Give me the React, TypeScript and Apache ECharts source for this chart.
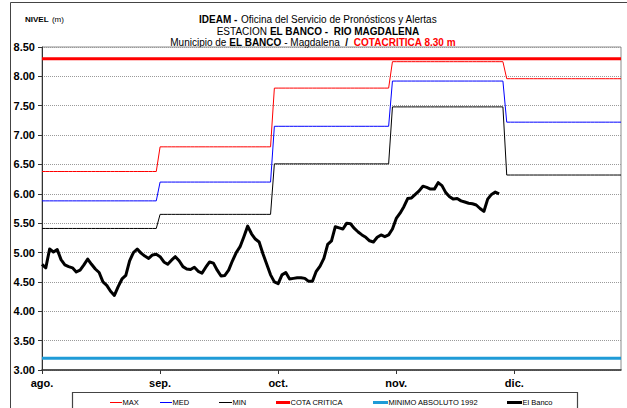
import React, { useEffect, useRef } from "react";
import * as echarts from "echarts";

// Month axis (Aug 1 – Dec 31, one category per day)
const monthLabels = ["ago.", "sep.", "oct.", "nov.", "dic."];
const monthDays = [31, 30, 31, 30, 31];

// Monthly reference levels (m)
const maxMonthly = [6.38, 6.8, 7.8, 8.25, 7.96];
const medMonthly = [5.88, 6.2, 7.15, 7.92, 7.22];
const minMonthly = [5.41, 5.65, 6.51, 7.48, 6.32];

// Constant levels (m)
const cotaCritica = 8.3;
const minimoAbsoluto1992 = 3.2;

// Daily level at El Banco, from Aug 1 (m)
const elBanco = [
  4.8, 4.74, 5.06, 5.01, 5.05, 4.88, 4.79, 4.76, 4.74, 4.67,
  4.7, 4.79, 4.89, 4.8, 4.72, 4.66, 4.5, 4.44, 4.34, 4.27,
  4.42, 4.55, 4.61, 4.86, 5.0, 5.06, 4.99, 4.94, 4.9, 4.96,
  4.97, 4.93, 4.84, 4.8, 4.87, 4.93, 4.86, 4.76, 4.72, 4.71,
  4.75, 4.68, 4.65, 4.75, 4.84, 4.82, 4.7, 4.6, 4.61, 4.7,
  4.86, 5.0, 5.1, 5.27, 5.45, 5.32, 5.23, 5.18, 4.98, 4.8,
  4.62, 4.5, 4.47, 4.62, 4.66, 4.55, 4.56, 4.57, 4.57, 4.56,
  4.51, 4.51, 4.68, 4.77, 4.9, 5.14, 5.2, 5.44, 5.42, 5.4,
  5.5, 5.49, 5.41, 5.35, 5.3, 5.26, 5.2, 5.18, 5.26, 5.3,
  5.27, 5.3, 5.4, 5.58, 5.67, 5.78, 5.92, 5.93, 5.99, 6.05,
  6.13, 6.11, 6.08, 6.08, 6.19, 6.14, 6.02, 5.95, 5.91, 5.92,
  5.88, 5.86, 5.84, 5.83, 5.81, 5.75, 5.7, 5.91, 5.99, 6.03,
  6.0,
];

// Series names, colours and widths (legend order)
const seriesNames = ["MAX", "MED", "MIN", "COTA CRITICA", "MINIMO ABSOLUTO 1992", "El Banco"];
const seriesColors = ["#ff0000", "#0000ff", "#000000", "#ff0000", "#1f9bd7", "#000000"];
const seriesWidths = [1, 1, 1, 3, 3, 3];

const yMin = 3;
const yMax = 8.5;
const yInterval = 0.5;

const FONT = "'Liberation Sans', Arial, sans-serif";

export default function App() {
  const ref = useRef<HTMLDivElement>(null);

  useEffect(() => {
    if (!ref.current) return;
    const chart = echarts.init(ref.current, undefined, { renderer: "svg" });

    const categories: string[] = [];
    const monthOfDay: number[] = [];
    monthDays.forEach((n, m) => {
      for (let d = 1; d <= n; d++) {
        categories.push(`${monthLabels[m]} ${d}`);
        monthOfDay.push(m);
      }
    });
    const expand = (arr: number[]) => monthOfDay.map((m) => arr[m]);
    const constant = (v: number) => monthOfDay.map(() => v);

    const seriesData = [
      expand(maxMonthly),
      expand(medMonthly),
      expand(minMonthly),
      constant(cotaCritica),
      constant(minimoAbsoluto1992),
      elBanco,
    ];

    // Legend layout: [line start x, line end x]; text follows line end
    const legendX: [number, number][] = [
      [110, 122],
      [160, 172],
      [219, 232],
      [276, 290],
      [373, 388],
      [507, 522],
    ];
    const legendY = 402;
    const legendGraphics: any[] = [];
    seriesNames.forEach((name, i) => {
      const [x1, x2] = legendX[i];
      const w = seriesWidths[i];
      const yy = w % 2 === 1 ? legendY + 0.5 : legendY;
      legendGraphics.push({
        type: "line",
        shape: { x1, y1: yy, x2, y2: yy },
        style: { stroke: seriesColors[i], lineWidth: w },
        silent: true,
        z: 10,
      });
      legendGraphics.push({
        type: "text",
        x: x2 + 0.5,
        y: legendY,
        style: {
          text: name,
          fontSize: 7.5,
          fontFamily: FONT,
          fill: "#000",
          align: "left",
          verticalAlign: "middle",
        },
        silent: true,
        z: 10,
      });
    });

    chart.setOption({
      animation: false,
      backgroundColor: "#ffffff",
      textStyle: { fontFamily: FONT },
      grid: {
        left: 42,
        right: 6,
        top: 47,
        bottom: 38,
        show: true,
        borderColor: "#8c8c8c",
        borderWidth: 1,
        backgroundColor: "transparent",
      },
      xAxis: {
        type: "category",
        data: categories,
        boundaryGap: false,
        axisLine: { show: true, lineStyle: { color: "#333", width: 1.5 } },
        axisTick: {
          show: true,
          interval: 30,
          length: 4,
          inside: false,
          lineStyle: { color: "#333" },
        },
        axisLabel: {
          interval: 30,
          margin: 7,
          fontSize: 11,
          fontWeight: "bold",
          color: "#000",
          fontFamily: FONT,
          formatter: (v: string) => v.split(" ")[0],
        },
        splitLine: { show: false },
      },
      yAxis: {
        type: "value",
        min: yMin,
        max: yMax,
        interval: yInterval,
        axisLine: { show: true, lineStyle: { color: "#333", width: 1 } },
        axisTick: { show: true, length: 4, lineStyle: { color: "#333" } },
        axisLabel: {
          margin: 7,
          fontSize: 11,
          fontWeight: "bold",
          color: "#000",
          fontFamily: FONT,
          formatter: (v: number) => v.toFixed(2),
        },
        splitLine: {
          show: true,
          lineStyle: { color: "#9a9a9a", type: [1, 1], width: 1 },
        },
      },
      graphic: [
        {
          type: "rect",
          shape: { x: 10.5, y: 2.5, width: 640, height: 440 },
          style: { fill: "none", stroke: "#444", lineWidth: 1 },
          silent: true,
          z: -10,
        },
        {
          type: "rect",
          shape: { x: 72.5, y: 392.5, width: 505, height: 40 },
          style: { fill: "#fff", stroke: "#444", lineWidth: 1.2 },
          silent: true,
          z: -5,
        },
        ...legendGraphics,
        {
          type: "text",
          x: 25,
          y: 19,
          style: {
            text: "{b|NIVEL} {n|(m)}",
            align: "left",
            verticalAlign: "middle",
            rich: {
              b: { fontSize: 8, fontWeight: "bold", fontFamily: FONT, fill: "#000" },
              n: { fontSize: 8, fontFamily: FONT, fill: "#000" },
            },
          },
          silent: true,
        },
        {
          type: "text",
          x: 318,
          y: 19,
          style: {
            text: "{b|IDEAM -} {n|Oficina del Servicio de Pronósticos y Alertas}",
            align: "center",
            verticalAlign: "middle",
            rich: {
              b: { fontSize: 10, fontWeight: "bold", fontFamily: FONT, fill: "#000" },
              n: { fontSize: 10, fontFamily: FONT, fill: "#000" },
            },
          },
          silent: true,
        },
        {
          type: "text",
          x: 318,
          y: 31,
          style: {
            text: "{n|ESTACION }{b|EL BANCO -  RIO MAGDALENA}",
            align: "center",
            verticalAlign: "middle",
            rich: {
              b: { fontSize: 10, fontWeight: "bold", fontFamily: FONT, fill: "#000" },
              n: { fontSize: 10, fontFamily: FONT, fill: "#000" },
            },
          },
          silent: true,
        },
        {
          type: "text",
          x: 313,
          y: 42,
          style: {
            text: "{n|Municipio de }{b|EL BANCO}{n| - Magdalena  }{b|/}{n|  }{r|COTACRITICA 8.30 m}",
            align: "center",
            verticalAlign: "middle",
            rich: {
              b: { fontSize: 10, fontWeight: "bold", fontFamily: FONT, fill: "#000" },
              n: { fontSize: 10, fontFamily: FONT, fill: "#000" },
              r: { fontSize: 10, fontWeight: "bold", fontFamily: FONT, fill: "#ff0000" },
            },
          },
          silent: true,
        },
      ],
      series: seriesNames.map((name, i) => ({
        name,
        type: "line",
        data: seriesData[i],
        symbol: "none",
        showSymbol: false,
        smooth: false,
        lineStyle: { color: seriesColors[i], width: seriesWidths[i], join: "round" },
        itemStyle: { color: seriesColors[i] },
        emphasis: { disabled: true },
      })),
    });

    return () => chart.dispose();
  }, []);

  return (
    <div
      ref={ref}
      style={{ position: "fixed", left: 0, top: 0, width: 627, height: 408 }}
    />
  );
}
